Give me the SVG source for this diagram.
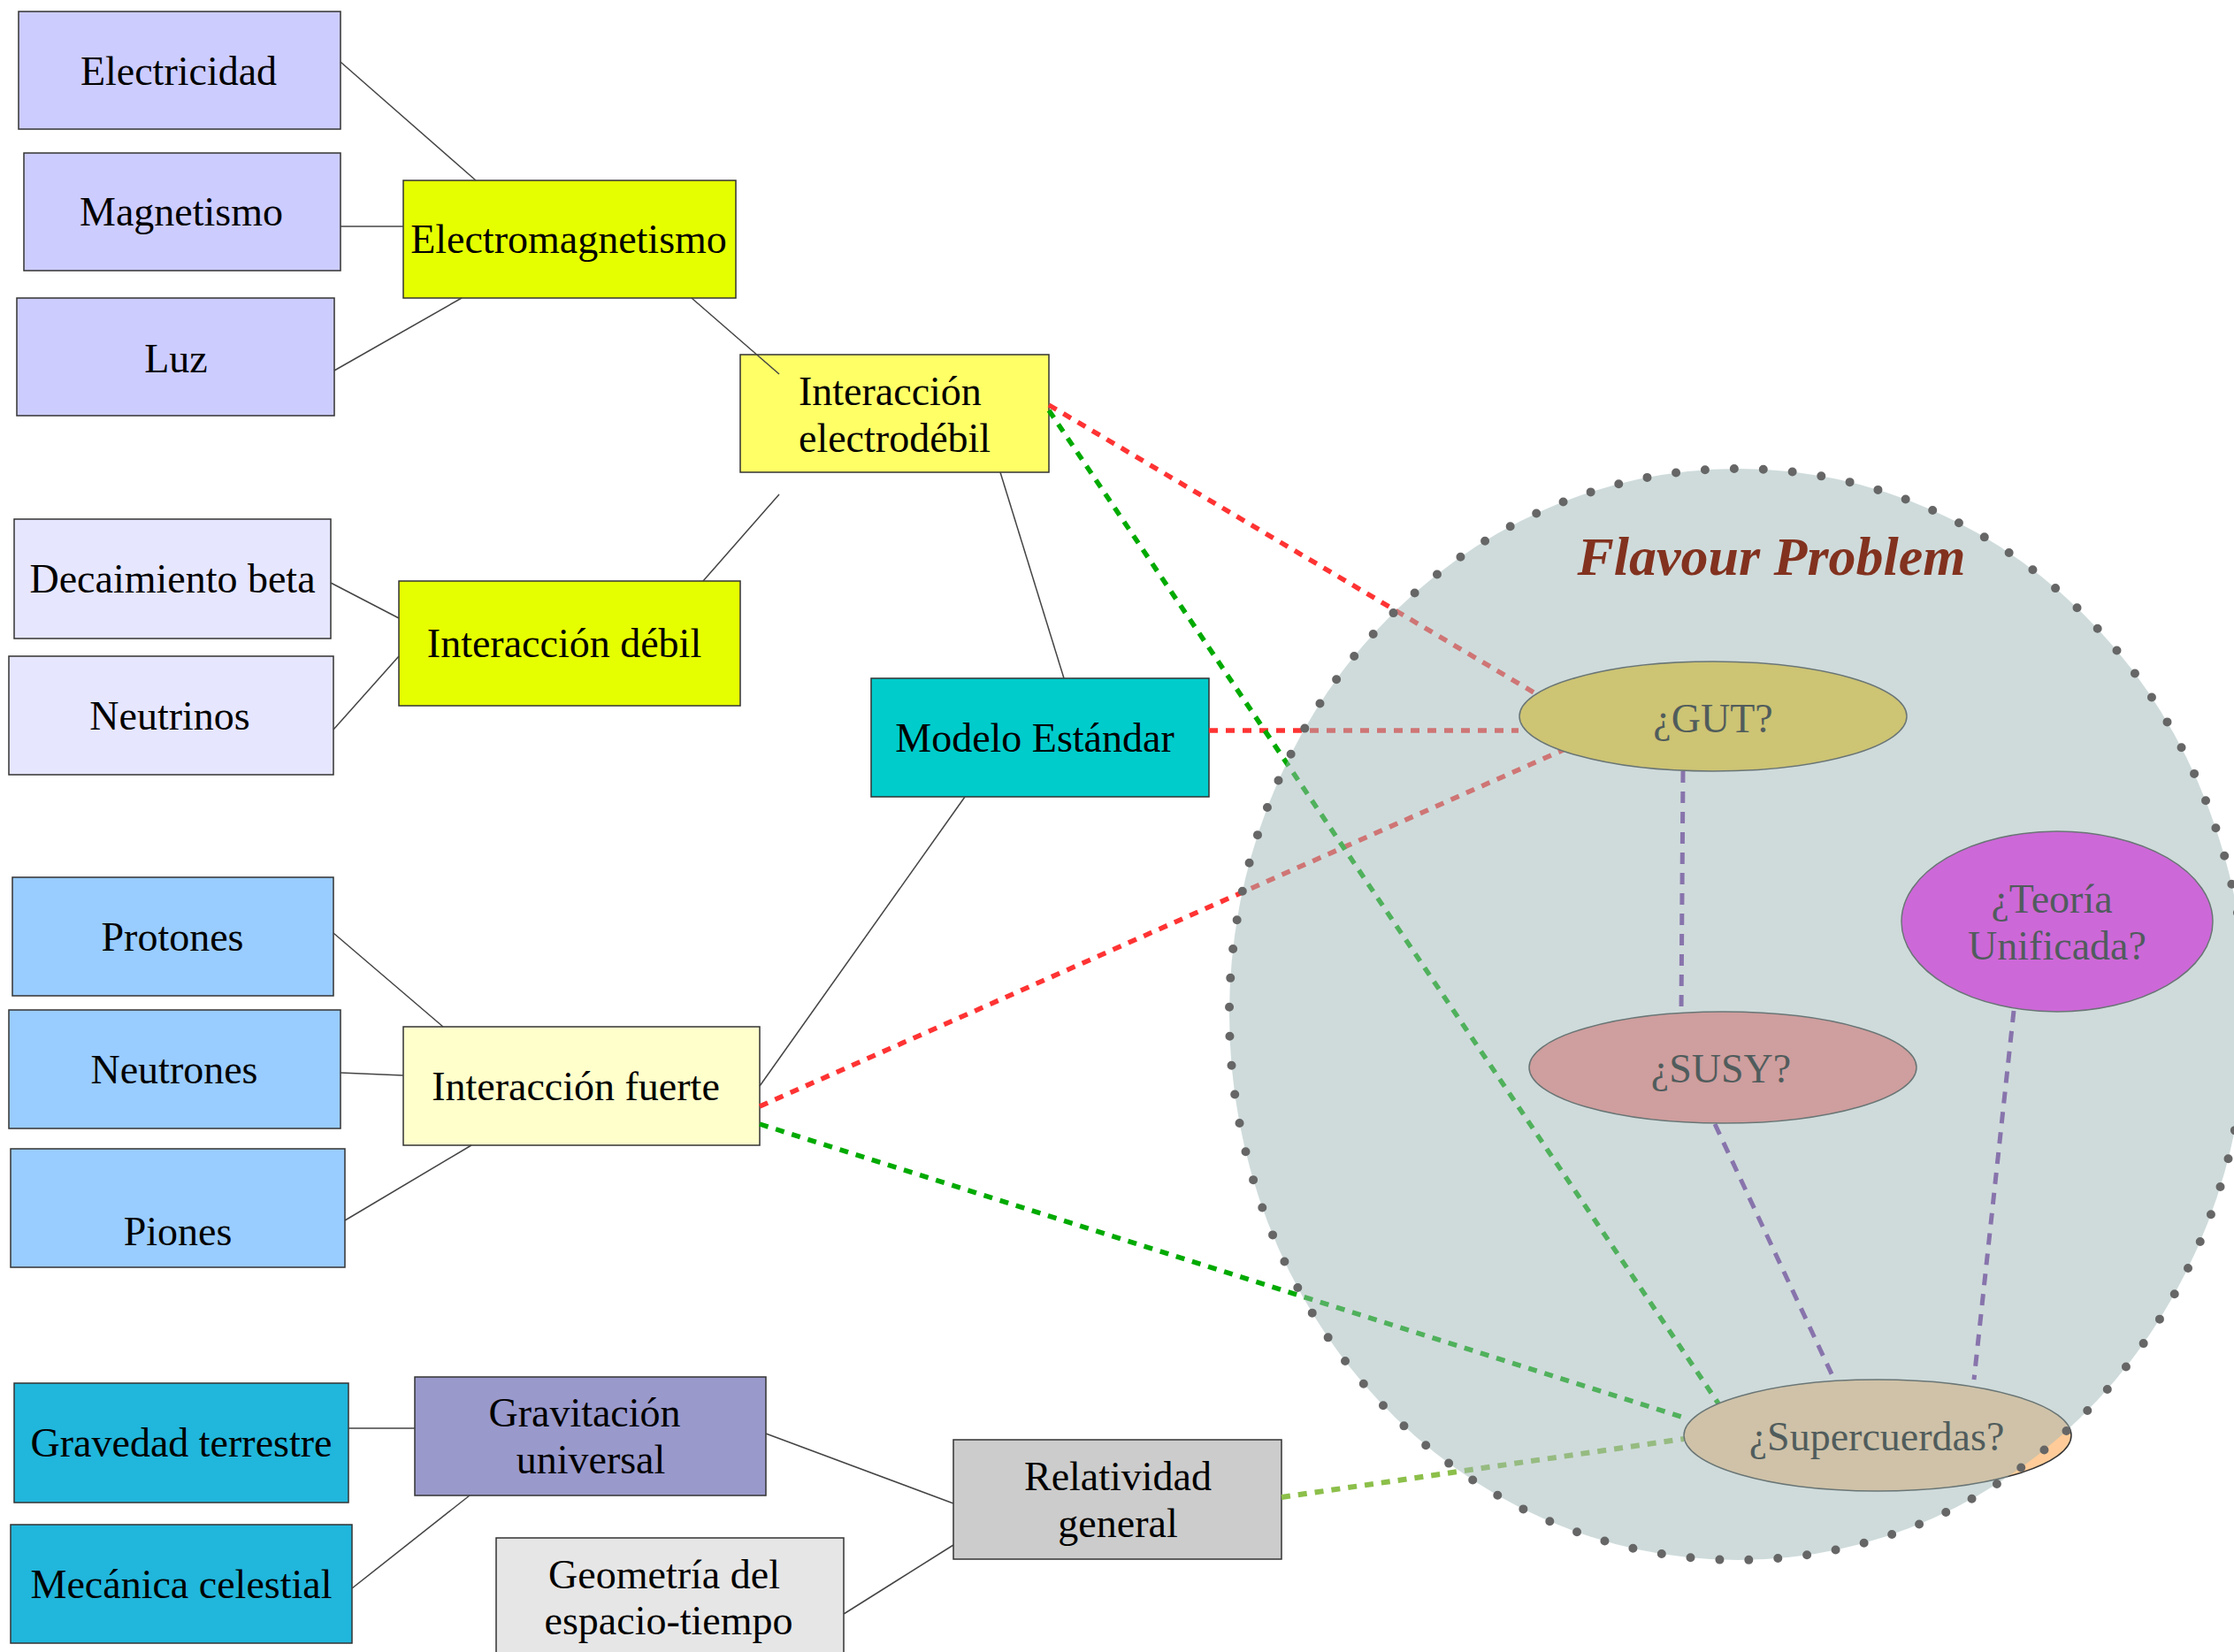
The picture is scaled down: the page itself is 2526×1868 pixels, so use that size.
<svg xmlns="http://www.w3.org/2000/svg" width="2526" height="1868" viewBox="0 0 2526 1868">
<style>
  .box{stroke:#333;stroke-width:1.5}
  .t{font-family:"Liberation Serif","Times New Roman",serif;font-size:46px;fill:#000;text-anchor:middle}
  .ts{font-family:"Liberation Serif","Times New Roman",serif;font-size:46px;fill:#000;text-anchor:start}
  .solid{stroke:#444;stroke-width:1.5;fill:none}
  .red{stroke:#ff3333;stroke-width:5.5;stroke-dasharray:10 9;fill:none}
  .green{stroke:#00aa00;stroke-width:5.5;stroke-dasharray:10 9;fill:none}
  .lime{stroke:#8cbf4a;stroke-width:6;stroke-dasharray:10 9;fill:none}
  .purple{stroke:#7030a0;stroke-width:5;stroke-dasharray:13 10;fill:none}
  .ell{stroke:#333;stroke-width:1.5}
</style>
<rect width="2526" height="1868" fill="#ffffff"/>

<g id="electricidad"><rect class="box" x="21" y="13" width="364" height="133" fill="#ccccff"/><text class="t" x="202" y="96">Electricidad</text></g>
<g id="magnetismo"><rect class="box" x="27" y="173" width="358" height="133" fill="#ccccff"/><text class="t" x="205" y="255">Magnetismo</text></g>
<g id="luz"><rect class="box" x="19" y="337" width="359" height="133" fill="#ccccff"/><text class="t" x="199" y="421">Luz</text></g>
<g id="electromagnetismo"><rect class="box" x="456" y="204" width="376" height="133" fill="#e6ff00"/><text class="t" x="643" y="286">Electromagnetismo</text></g>
<g id="interaccion-electrodebil"><rect class="box" x="837" y="401" width="349" height="133" fill="#ffff66"/><text class="ts" x="903" y="458">Interacción</text><text class="ts" x="903" y="511">electrodébil</text></g>
<g id="decaimiento-beta"><rect class="box" x="16" y="587" width="358" height="135" fill="#e6e6ff"/><text class="t" x="195" y="670">Decaimiento beta</text></g>
<g id="neutrinos"><rect class="box" x="10" y="742" width="367" height="134" fill="#e6e6ff"/><text class="t" x="192" y="825">Neutrinos</text></g>
<g id="interaccion-debil"><rect class="box" x="451" y="657" width="386" height="141" fill="#e6ff00"/><text class="t" x="638" y="743">Interacción débil</text></g>
<g id="modelo-estandar"><rect class="box" x="985" y="767" width="382" height="134" fill="#00cccc"/><text class="t" x="1170" y="850">Modelo Estándar</text></g>
<g id="protones"><rect class="box" x="14" y="992" width="363" height="134" fill="#99ccff"/><text class="t" x="195" y="1075">Protones</text></g>
<g id="neutrones"><rect class="box" x="10" y="1142" width="375" height="134" fill="#99ccff"/><text class="t" x="197" y="1225">Neutrones</text></g>
<g id="piones"><rect class="box" x="12" y="1299" width="378" height="134" fill="#99ccff"/><text class="t" x="201" y="1408">Piones</text></g>
<g id="interaccion-fuerte"><rect class="box" x="456" y="1161" width="403" height="134" fill="#ffffcc"/><text class="t" x="651" y="1244">Interacción fuerte</text></g>
<g id="gravedad-terrestre"><rect class="box" x="16" y="1564" width="378" height="135" fill="#21b6dc"/><text class="t" x="205" y="1647">Gravedad terrestre</text></g>
<g id="mecanica-celestial"><rect class="box" x="12" y="1724" width="386" height="134" fill="#21b6dc"/><text class="t" x="205" y="1807">Mecánica celestial</text></g>
<g id="gravitacion-universal"><rect class="box" x="469" y="1557" width="397" height="134" fill="#9999cc"/><text class="t" x="661" y="1613">Gravitación</text><text class="t" x="668" y="1666">universal</text></g>
<g id="relatividad-general"><rect class="box" x="1078" y="1628" width="371" height="135" fill="#cccccc"/><text class="t" x="1264" y="1685">Relatividad</text><text class="t" x="1264" y="1738">general</text></g>
<g id="geometria"><rect class="box" x="561" y="1739" width="393" height="140" fill="#e6e6e6"/><text class="t" x="751" y="1796">Geometría del</text><text class="t" x="756" y="1848">espacio-tiempo</text></g>

<g id="connectors">
  <line class="solid" x1="385" y1="70" x2="538" y2="204"/>
  <line class="solid" x1="385" y1="256" x2="456" y2="256"/>
  <line class="solid" x1="378" y1="419" x2="522" y2="337"/>
  <line class="solid" x1="782" y1="337" x2="881" y2="423"/>
  <line class="solid" x1="881" y1="559" x2="795" y2="657"/>
  <line class="solid" x1="374" y1="659" x2="451" y2="699"/>
  <line class="solid" x1="377" y1="825" x2="451" y2="742"/>
  <line class="solid" x1="1131" y1="534" x2="1203" y2="767" stroke="#666"/>
  <line class="solid" x1="1091" y1="901" x2="859" y2="1228"/>
  <line class="solid" x1="377" y1="1055" x2="501" y2="1161"/>
  <line class="solid" x1="385" y1="1213" x2="456" y2="1216"/>
  <line class="solid" x1="390" y1="1380" x2="533" y2="1295"/>
  <line class="solid" x1="394" y1="1615" x2="469" y2="1615"/>
  <line class="solid" x1="398" y1="1796" x2="531" y2="1691"/>
  <line class="solid" x1="866" y1="1621" x2="1078" y2="1700"/>
  <line class="solid" x1="954" y1="1825" x2="1078" y2="1747"/>
  <line class="red" x1="1186" y1="458" x2="1736" y2="784"/>
  <line class="red" x1="1367" y1="826" x2="1717" y2="826"/>
  <line class="red" x1="859" y1="1251" x2="1772" y2="846"/>
  <line class="green" x1="1186" y1="464" x2="1943" y2="1587"/>
  <line class="green" x1="859" y1="1271" x2="1904" y2="1603"/>
  <line class="lime" x1="1449" y1="1693" x2="1904" y2="1627"/>
  <line class="purple" x1="1903" y1="872" x2="1901" y2="1144"/>
  <line class="purple" x1="1939" y1="1271" x2="2074" y2="1560"/>
  <line class="purple" x1="2277" y1="1143" x2="2232" y2="1560"/>
</g>

<g id="gut"><ellipse class="ell" cx="1937" cy="810" rx="219" ry="62" fill="#fbd030"/><text class="t" x="1937" y="828">¿GUT?</text></g>
<g id="teoria-unificada"><ellipse class="ell" cx="2326" cy="1042" rx="176" ry="102" fill="#fb18f8"/><text class="t" x="2320" y="1032">¿Teoría</text><text class="t" x="2326" y="1085">Unificada?</text></g>
<g id="susy"><ellipse class="ell" cx="1948" cy="1207" rx="219" ry="63" fill="#ff8585"/><text class="t" x="1946" y="1224">¿SUSY?</text></g>
<g id="supercuerdas"><ellipse class="ell" cx="2123" cy="1623" rx="219" ry="63" fill="#ffcc99"/><text class="t" x="2122" y="1640">¿Supercuerdas?</text></g>

<g id="flavour-problem">
  <ellipse cx="1965" cy="1147" rx="575" ry="617" fill="#9fb7b7" fill-opacity="0.5"/>
  <ellipse cx="1965" cy="1147" rx="575" ry="617" fill="none" stroke="#666" stroke-width="10" stroke-dasharray="0 33" stroke-linecap="round"/>
  <text x="2003" y="650" font-family="Liberation Serif, Times New Roman, serif" font-size="62" font-style="italic" font-weight="bold" fill="#82321f" text-anchor="middle">Flavour Problem</text>
</g>
</svg>
